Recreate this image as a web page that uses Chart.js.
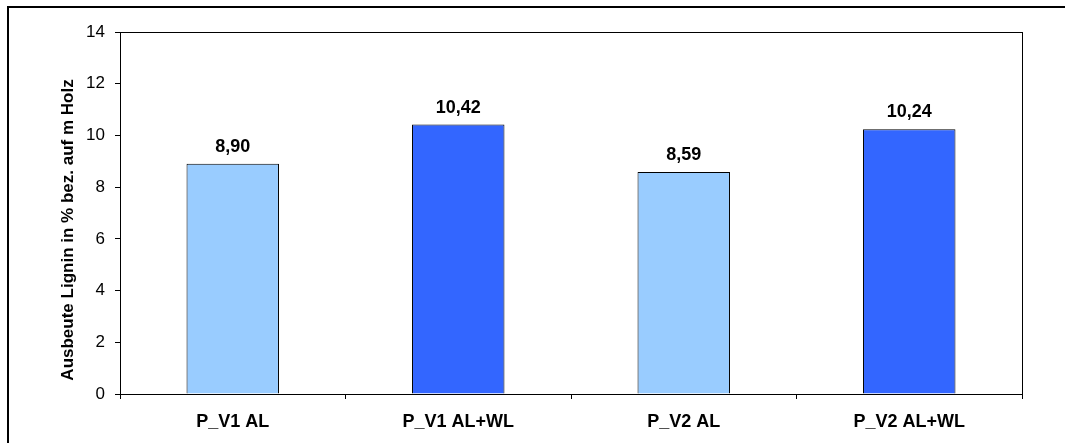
<!DOCTYPE html>
<html>
<head>
<meta charset="utf-8">
<script src="https://cdn.jsdelivr.net/npm/chart.js@4"></script>
<style>
  html, body { margin: 0; padding: 0; background: #fff; overflow: hidden; }
  #wrap { width: 1065px; height: 443px; position: relative; }
</style>
</head>
<body>
<div id="wrap"><canvas id="chart" width="1065" height="443"></canvas></div>
<script>
// ----------------------------
// DATA
// ----------------------------
const categories = ['P_V1 AL', 'P_V1 AL+WL', 'P_V2 AL', 'P_V2 AL+WL'];
const yields = [8.90, 10.42, 8.59, 10.24];
const barColors = ['#99CCFF', '#3366FF', '#99CCFF', '#3366FF'];
const yTicks = [0, 2, 4, 6, 8, 10, 12, 14];
const yTitle = 'Ausbeute Lignin in % bez. auf m Holz';

const FONT = 'Arial, "Liberation Sans", sans-serif';

// ----------------------------
// PLUGINS
// ----------------------------
const frame = {
  id: 'frame',
  beforeDraw(chart) {
    const ctx = chart.ctx;
    ctx.save();
    ctx.fillStyle = '#fff';
    ctx.fillRect(0, 0, chart.width, chart.height);
    // outer border (only top + left visible)
    ctx.fillStyle = '#000';
    ctx.fillRect(7, 6, chart.width - 7, 2);
    ctx.fillRect(7, 6, 2, chart.height - 6);
    ctx.restore();
  },
  afterDraw(chart) {
    const a = chart.chartArea;
    const ctx = chart.ctx;
    ctx.save();
    ctx.strokeStyle = '#000';
    ctx.lineWidth = 1;
    ctx.strokeRect(a.left + 0.5, a.top + 0.5, a.right - a.left, a.bottom - a.top);

    // y axis title
    ctx.translate(68, 230);
    ctx.rotate(-Math.PI / 2);
    ctx.font = 'bold 17px ' + FONT;
    ctx.fillStyle = '#000';
    ctx.textAlign = 'center';
    ctx.textBaseline = 'middle';
    ctx.fillText(yTitle, 0, 0);
    ctx.restore();
  }
};

const valueLabels = {
  id: 'valueLabels',
  afterDatasetsDraw(chart) {
    const ctx = chart.ctx;
    const meta = chart.getDatasetMeta(0);
    ctx.save();
    ctx.font = 'bold 18px ' + FONT;
    ctx.fillStyle = '#000';
    ctx.textAlign = 'center';
    ctx.textBaseline = 'middle';
    meta.data.forEach((bar, i) => {
      const txt = yields[i].toFixed(2).replace('.', ',');
      ctx.fillText(txt, bar.x, bar.y - 17);
    });
    ctx.restore();
  }
};

// ----------------------------
// CHART
// ----------------------------
new Chart(document.getElementById('chart'), {
  type: 'bar',
  data: {
    labels: categories,
    datasets: [{
      data: yields,
      backgroundColor: barColors,
      borderColor: '#000',
      borderWidth: 1,
      categoryPercentage: 1,
      barPercentage: 0.41
    }]
  },
  options: {
    responsive: false,
    animation: false,
    layout: { padding: { top: 32, right: 43, left: 0, bottom: 0 } },
    plugins: {
      legend: { display: false },
      tooltip: { enabled: false }
    },
    scales: {
      x: {
        afterFit(scale) { scale.height = 49; },
        grid: {
          offset: true,
          drawOnChartArea: false,
          tickLength: 5,
          color: '#000'
        },
        border: { color: '#000', width: 1 },
        ticks: {
          color: '#000',
          padding: 12,
          font: { family: FONT, size: 18, weight: 'bold' }
        }
      },
      y: {
        min: 0,
        max: 14,
        afterFit(scale) { scale.width = 120; },
        afterBuildTicks(scale) { scale.ticks = yTicks.map(v => ({ value: v })); },
        grid: {
          drawOnChartArea: false,
          tickLength: 5,
          color: '#000'
        },
        border: { color: '#000', width: 1 },
        ticks: {
          color: '#000',
          padding: 10,
          font: { family: FONT, size: 17 }
        }
      }
    }
  },
  plugins: [frame, valueLabels]
});
</script>
</body>
</html>
